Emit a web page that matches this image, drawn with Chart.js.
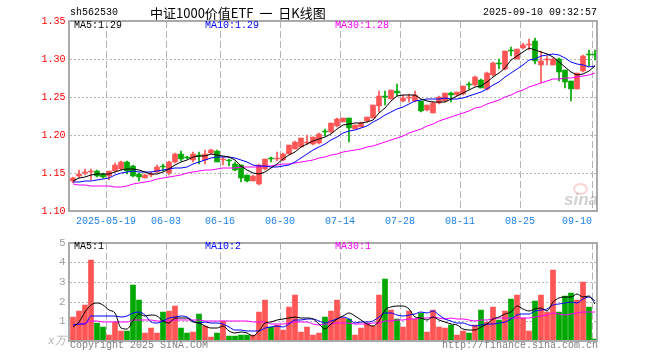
<!DOCTYPE html>
<html>
<head>
<meta charset="utf-8">
<script src="https://cdn.jsdelivr.net/npm/chart.js@4.4.1/dist/chart.umd.min.js"></script>
<style>
  body { margin: 0; background: #fff; }
  #wrap { position: relative; width: 660px; height: 360px; background: #fff; overflow: hidden; }
  .box { position: absolute; left: 0; width: 660px; }
  .txt { position: absolute; font-family: 'Liberation Mono', monospace; font-size: 10px; line-height: 12px; white-space: pre; }
</style>
</head>
<body>
<div id="wrap">
  <div class="box" style="top:0;height:232px"><canvas id="klineChart" width="660" height="232"></canvas></div>
  <div class="box" style="top:232px;height:128px"><canvas id="volChart" width="660" height="128"></canvas></div>

  <div class="txt" style="left:70px;top:7px;color:#000">sh562530</div>
  <div class="txt" style="left:150px;top:4px;font-family:'Noto Sans CJK SC';font-size:13px;line-height:18px;word-spacing:3px;color:#000">中证1000价值ETF 一 日K线图</div>
  <div class="txt" style="right:63px;top:7px;color:#000">2025-09-10 09:32:57</div>

  <div class="txt" style="left:74px;top:20px;color:#000">MA5:1.29</div>
  <div class="txt" style="left:205px;top:20px;color:#0000ff">MA10:1.29</div>
  <div class="txt" style="left:335px;top:20px;color:#ff00ff">MA30:1.28</div>

  <div class="txt" style="left:74px;top:241px;color:#000">MA5:1</div>
  <div class="txt" style="left:205px;top:241px;color:#0000ff">MA10:2</div>
  <div class="txt" style="left:335px;top:241px;color:#ff00ff">MA30:1</div>

  <div class="txt" style="left:48px;top:335px;color:#b0b0b0;font-style:italic;font-size:11px">x万</div>
  <div class="txt" style="left:70px;top:340px;color:#808080">Copyright 2025 SINA.COM</div>
  <div class="txt" style="right:62px;top:340px;color:#808080">http://finance.sina.com.cn</div>

  <div style="position:absolute;left:573px;top:183px;width:11px;height:8px;border:2px solid rgba(240,110,110,0.3);border-radius:50%"></div>
  <div style="position:absolute;left:564px;top:190px;font-family:'Liberation Sans',Arial;font-size:17px;font-weight:bold;font-style:italic;color:rgba(140,140,140,0.4)">sina</div>
</div>
<script>
// tick positions (candle index at the dashed line) and their labels
const tickIdx = [6, 16, 25, 35, 45, 55, 65, 75, 87];
const tickLabels = ['2025-05-19', '06-03', '06-16', '06-30', '07-14', '07-28', '08-11', '08-25', '09-10     '];

// daily candles, 2025-05-09 .. 2025-09-10
const openP = [1.139,1.146,1.150,1.151,1.153,1.149,1.146,1.152,1.155,1.165,1.159,1.149,1.1435,1.147,1.151,1.159,1.150,1.164,1.1745,1.1705,
  1.167,1.174,1.167,1.176,1.1795,1.167,1.166,1.1625,1.1605,1.1475,1.1395,1.1355,1.155,1.1685,1.169,1.167,1.175,1.1815,1.1845,1.190,
  1.188,1.189,1.2045,1.2035,1.212,1.2175,1.222,1.2085,1.211,1.218,1.223,1.238,1.2505,1.248,1.258,1.2445,1.249,1.2445,1.2445,1.233,
  1.229,1.2415,1.2445,1.2555,1.252,1.2535,1.266,1.2655,1.2725,1.260,1.2785,1.294,1.2865,1.3125,1.3005,1.314,1.319,1.3235,1.292,1.299,
  1.292,1.3005,1.285,1.271,1.261,1.284,1.3055,1.3055];
const highP = [1.145,1.1535,1.155,1.155,1.154,1.150,1.153,1.163,1.166,1.166,1.160,1.150,1.149,1.151,1.160,1.162,1.166,1.1765,1.179,1.172,
  1.177,1.177,1.180,1.181,1.180,1.171,1.169,1.1645,1.161,1.148,1.147,1.1615,1.169,1.171,1.1775,1.176,1.187,1.1915,1.1965,1.2005,
  1.198,1.202,1.2075,1.216,1.222,1.223,1.2225,1.2135,1.217,1.224,1.2395,1.258,1.2585,1.2595,1.2665,1.252,1.2535,1.2585,1.245,1.240,
  1.2435,1.251,1.2555,1.256,1.257,1.265,1.2695,1.277,1.274,1.2825,1.2955,1.2995,1.311,1.316,1.3135,1.321,1.326,1.327,1.311,1.304,
  1.301,1.301,1.2855,1.2715,1.2815,1.305,1.312,1.312];
const lowP = [1.137,1.144,1.147,1.141,1.145,1.144,1.141,1.151,1.154,1.149,1.145,1.140,1.143,1.145,1.150,1.153,1.148,1.163,1.166,1.168,
  1.165,1.162,1.162,1.175,1.164,1.160,1.159,1.153,1.1385,1.138,1.139,1.1345,1.154,1.165,1.166,1.166,1.1745,1.181,1.184,1.1865,
  1.187,1.1885,1.199,1.203,1.211,1.217,1.191,1.208,1.210,1.2175,1.222,1.230,1.2395,1.2475,1.2515,1.244,1.243,1.244,1.230,1.232,
  1.2285,1.241,1.244,1.2435,1.2515,1.253,1.260,1.265,1.2615,1.2595,1.278,1.2875,1.286,1.304,1.300,1.313,1.3125,1.294,1.269,1.292,
  1.2915,1.2715,1.2625,1.2445,1.2605,1.2835,1.291,1.299];
const closeP = [1.144,1.149,1.151,1.152,1.146,1.145,1.152,1.161,1.165,1.153,1.146,1.145,1.148,1.149,1.158,1.158,1.1645,1.175,1.169,1.170,
  1.1755,1.173,1.1755,1.180,1.165,1.168,1.1655,1.154,1.143,1.1395,1.146,1.1605,1.168,1.168,1.1695,1.1755,1.1865,1.191,1.1955,1.191,
  1.1975,1.2015,1.204,1.2155,1.2215,1.222,1.209,1.213,1.2155,1.2235,1.239,1.251,1.250,1.259,1.255,1.249,1.2495,1.252,1.231,1.239,
  1.2425,1.2505,1.255,1.252,1.2565,1.2645,1.2655,1.2765,1.2625,1.282,1.295,1.2935,1.3105,1.310,1.313,1.318,1.3195,1.298,1.2975,1.2995,
  1.3005,1.283,1.270,1.261,1.281,1.3045,1.305,1.305];

// price moving averages as drawn
const ma5 = [1.139,1.143,1.145,1.147,1.1484,1.1486,1.1492,1.1512,1.1538,1.1552,1.1554,1.154,1.1514,1.1482,1.1492,1.1516,1.1555,1.1609,1.1649,1.1673,
  1.1708,1.1725,1.1726,1.1748,1.1738,1.1723,1.1708,1.1665,1.1591,1.154,1.1496,1.1486,1.1514,1.1564,1.1624,1.1683,1.1735,1.1781,1.1836,1.1879,
  1.1923,1.1953,1.1979,1.2019,1.208,1.2129,1.2144,1.2162,1.2162,1.2166,1.22,1.2284,1.2358,1.2445,1.2508,1.2528,1.2525,1.2529,1.2473,1.2441,
  1.2428,1.243,1.2436,1.2478,1.2513,1.2557,1.2587,1.263,1.2651,1.2702,1.2763,1.2819,1.2887,1.2982,1.3044,1.309,1.3142,1.3117,1.3092,1.3065,
  1.303,1.2957,1.2901,1.2828,1.2791,1.2799,1.2843,1.2913];
const ma10 = [1.138,1.138,1.139,1.140,1.141,1.142,1.144,1.147,1.150,1.1518,1.152,1.1516,1.1513,1.151,1.1522,1.1535,1.1548,1.1562,1.1566,1.1583,
  1.1612,1.164,1.1668,1.1699,1.1706,1.1716,1.1717,1.1696,1.167,1.1639,1.161,1.1597,1.159,1.1578,1.1582,1.159,1.1611,1.1648,1.17,1.1752,
  1.1803,1.1844,1.188,1.1928,1.198,1.2026,1.2049,1.2071,1.2091,1.2123,1.2165,1.2214,1.226,1.2304,1.2337,1.2364,1.2405,1.2444,1.2459,1.2475,
  1.2478,1.2478,1.2483,1.2476,1.2477,1.2493,1.2509,1.2533,1.2565,1.2608,1.266,1.2703,1.2759,1.2817,1.2873,1.2927,1.2981,1.3002,1.3037,1.3055,
  1.306,1.305,1.3009,1.296,1.2928,1.2915,1.29,1.2907];
const ma30 = [1.1355,1.1345,1.134,1.133,1.133,1.133,1.1325,1.131,1.131,1.133,1.136,1.137,1.138,1.140,1.142,1.143,1.145,1.146,1.148,1.150,
  1.1515,1.1525,1.1535,1.1545,1.1555,1.156,1.1565,1.157,1.1575,1.158,1.158,1.1584,1.159,1.1595,1.1603,1.1613,1.1625,1.1635,1.1645,1.1658,
  1.1675,1.1694,1.1712,1.1735,1.1756,1.1777,1.1792,1.1805,1.182,1.1838,1.1859,1.1885,1.191,1.1936,1.1966,1.1993,1.2021,1.2054,1.2083,1.2116,
  1.2149,1.2179,1.2208,1.2236,1.2265,1.2294,1.2321,1.2349,1.2371,1.2402,1.2434,1.2465,1.25,1.2532,1.2562,1.2594,1.2631,1.266,1.2687,1.2712,
  1.2733,1.2743,1.275,1.2751,1.2759,1.2778,1.2796,1.2814];

// volume (x 10k lots) and its moving averages
const volume = [1.2,1.53,1.83,4.13,0.93,0.7,0.28,0.95,0.53,0.53,2.83,2.08,0.43,0.68,0.43,1.48,1.53,1.78,0.68,0.4,
  0.48,1.38,0.78,0.18,0.43,1.0,0.23,0.23,0.3,0.33,0.28,1.48,2.08,0.7,0.8,0.58,1.73,2.33,0.48,0.73,
  0.28,0.43,1.23,1.53,2.08,1.17,1.12,0.33,0.68,0.92,0.75,2.33,3.13,1.58,1.12,0.73,1.53,1.12,1.43,0.48,
  1.58,0.73,0.68,0.83,0.28,0.53,0.43,0.83,1.58,0.98,1.73,1.08,1.53,2.13,2.33,1.15,0.53,2.03,2.33,1.48,
  3.63,1.48,2.27,2.43,2.08,2.98,1.73,0.08];
const volMa5 = [0.7,0.95,1.45,1.85,1.92,1.82,1.57,1.40,0.68,0.60,1.02,1.38,1.28,1.31,1.29,1.02,0.91,1.18,1.18,1.17,
  0.97,0.94,0.74,0.64,0.65,0.75,0.52,0.41,0.44,0.42,0.27,0.52,0.89,0.97,1.07,1.13,1.18,1.23,1.18,1.17,
  1.11,0.85,0.63,0.84,1.11,1.29,1.43,1.25,1.08,0.84,0.76,1.0,1.56,1.74,1.78,1.78,1.62,1.22,1.19,1.06,
  1.23,1.07,0.98,0.86,0.82,0.61,0.55,0.58,0.73,0.87,1.11,1.24,1.38,1.49,1.76,1.64,1.53,1.63,1.67,1.50,
  2.0,2.19,2.24,2.26,2.38,2.25,2.30,1.86];
const volMa10 = [0.82,0.84,0.86,1.25,1.27,1.27,1.26,1.25,1.24,1.26,1.42,1.48,1.34,0.99,0.94,1.02,1.15,1.23,1.25,1.23,
  1.0,0.93,0.96,0.91,0.91,0.86,0.73,0.58,0.54,0.53,0.51,0.52,0.65,0.71,0.74,0.70,0.85,1.06,1.08,1.12,
  1.12,1.01,0.93,1.01,1.14,1.20,1.14,0.94,0.96,0.98,1.02,1.21,1.40,1.41,1.31,1.27,1.31,1.39,1.46,1.42,
  1.50,1.34,1.10,1.02,0.94,0.92,0.81,0.78,0.80,0.85,0.86,0.90,0.98,1.11,1.32,1.38,1.39,1.51,1.58,1.63,
  1.82,1.86,1.94,1.97,1.94,2.12,2.24,2.05];
const volMa30 = [0.83,0.84,0.9,1.0,1.0,0.98,0.95,0.95,0.95,0.96,1.05,1.07,1.07,1.06,1.04,1.03,1.04,1.05,1.05,1.05,
  1.05,1.05,1.04,1.03,1.02,1.01,1.0,1.0,1.0,1.01,0.98,0.98,0.99,0.87,0.87,0.86,0.91,0.96,0.96,0.96,
  0.88,0.82,0.85,0.88,0.93,0.92,0.91,0.86,0.86,0.88,0.89,0.92,1.0,1.04,1.07,1.06,1.10,1.13,1.17,1.17,
  1.22,1.19,1.14,1.15,1.13,1.13,1.09,1.04,1.07,1.08,1.13,1.15,1.16,1.18,1.19,1.19,1.17,1.23,1.28,1.30,
  1.40,1.37,1.34,1.37,1.40,1.47,1.48,1.45];

const UP = '#ff5555';
const DOWN = '#00a800';
const MONO = { family: 'Liberation Mono', size: 10 };

const candleColors = closeP.map((c, i) => c >= openP[i] ? UP : DOWN);
const pts = arr => arr.map((v, i) => ({ x: i + 0.5, y: v }));

// grey frame round the plot area
const framePlugin = {
    id: 'frame',
    afterDraw(chart) {
        const { ctx, chartArea: a } = chart;
        const l = Math.floor(a.left), r = Math.floor(a.right);
        ctx.save();
        ctx.strokeStyle = '#aaaaaa';
        ctx.lineWidth = 2;
        ctx.strokeRect(l, Math.round(a.top), r - l, Math.round(a.bottom) - Math.round(a.top));
        ctx.restore();
    }
};

function xScale(showLabels, height) {
    return {
        type: 'linear',
        min: 0,
        max: closeP.length,
        offset: false,
        alignToPixels: true,
        afterBuildTicks: s => { s.ticks = tickIdx.map(v => ({ value: v })); },
        afterFit: s => { s.height = height; },
        grid: { color: '#b4b4b4', drawTicks: false, offset: false },
        border: { display: false, dash: [7, 3] },
        ticks: {
            display: showLabels,
            autoSkip: false,
            maxRotation: 0,
            padding: 4,
            color: '#1e82e6',
            font: MONO,
            callback: (v, i) => tickLabels[i]
        }
    };
}

function lineSet(data, color, smooth) {
    return {
        type: 'line',
        data: pts(data),
        borderColor: color,
        borderWidth: 1,
        pointRadius: 0,
        tension: 0,
        cubicInterpolationMode: smooth ? 'monotone' : 'default',
        order: 0
    };
}

const commonOpts = {
    responsive: false,
    animation: false,
    events: [],
    plugins: { legend: { display: false }, tooltip: { enabled: false } }
};

// K-line chart
new Chart(document.getElementById('klineChart'), {
    type: 'bar',
    data: {
        datasets: [
            lineSet(ma5, '#000000', false),
            lineSet(ma10, '#0000ff', false),
            lineSet(ma30, '#ff00ff', false),
            {
                data: openP.map((o, i) => ({ x: i + 0.5, y: [Math.min(o, closeP[i]), Math.max(o, closeP[i])] })),
                backgroundColor: candleColors,
                barThickness: 5,
                minBarLength: 1,
                grouped: false,
                borderWidth: 0,
                order: 1
            },
            {
                data: lowP.map((l, i) => ({ x: i + 0.5, y: [l, highP[i]] })),
                backgroundColor: candleColors,
                barThickness: 1,
                minBarLength: 1,
                grouped: false,
                borderWidth: 0,
                order: 2
            }
        ]
    },
    options: {
        ...commonOpts,
        layout: { padding: { left: 0, right: 62.5, top: 21, bottom: 0 } },
        scales: {
            x: xScale(true, 21),
            y: {
                min: 1.10,
                max: 1.35,
                alignToPixels: true,
                afterFit: s => { s.width = 69.5; },
                grid: { color: '#b4b4b4', drawTicks: false },
                border: { display: false, dash: [2, 2] },
                ticks: { stepSize: 0.05, padding: 4, color: '#ff0000', font: MONO, callback: v => v.toFixed(2) }
            }
        }
    },
    plugins: [framePlugin]
});

// volume chart
new Chart(document.getElementById('volChart'), {
    type: 'bar',
    data: {
        datasets: [
            lineSet(volMa5, '#000000', true),
            lineSet(volMa10, '#0000ff', true),
            lineSet(volMa30, '#ff00ff', true),
            {
                data: pts(volume),
                backgroundColor: candleColors,
                barThickness: 5,
                grouped: false,
                borderWidth: 0,
                order: 1
            }
        ]
    },
    options: {
        ...commonOpts,
        layout: { padding: { left: 0, right: 62.5, top: 9, bottom: 0 } },
        scales: {
            x: xScale(false, 19),
            y: {
                min: 0,
                max: 5,
                alignToPixels: true,
                afterFit: s => { s.width = 69.5; },
                grid: { color: '#b4b4b4', drawTicks: false },
                border: { display: false, dash: [2, 2] },
                ticks: { stepSize: 1, padding: 4, color: '#a0a0a0', font: { family: 'Liberation Mono', size: 11 },
                    callback: v => v === 0 ? '' : String(v) }
            }
        }
    },
    plugins: [framePlugin]
});
</script>
</body>
</html>
